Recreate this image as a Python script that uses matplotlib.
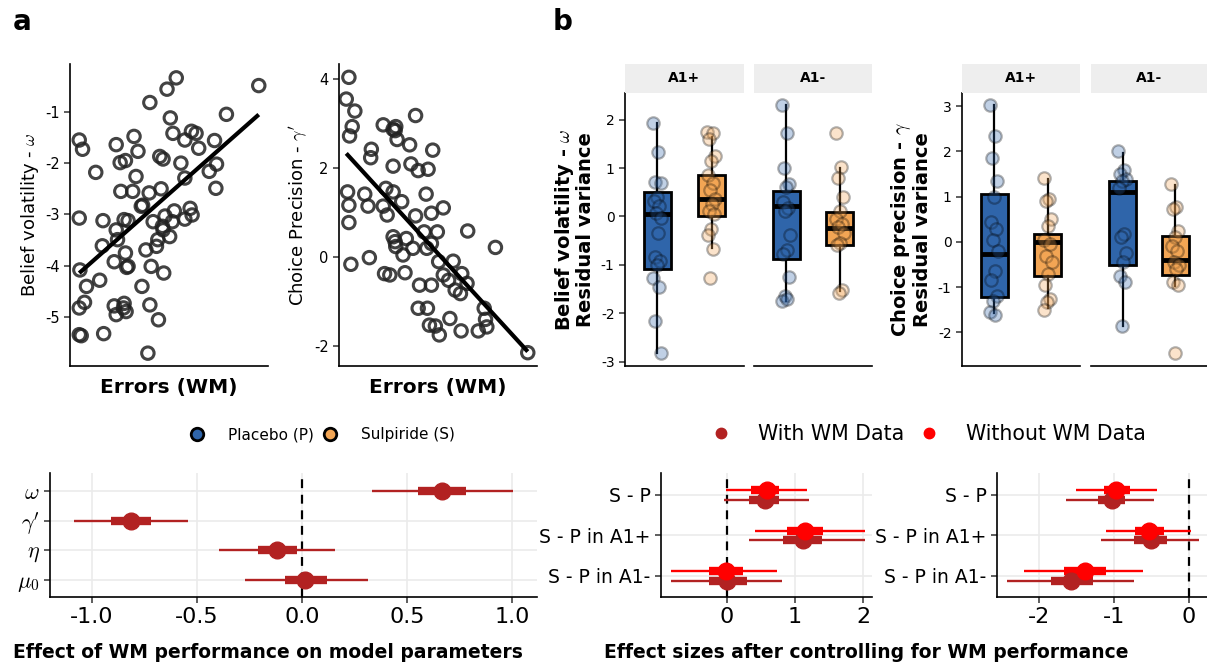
import numpy as np
import matplotlib
matplotlib.use("Agg")
import matplotlib.pyplot as plt
from matplotlib.lines import Line2D

plt.rcParams['font.family'] = ['DejaVu Sans']
plt.rcParams['mathtext.fontset'] = 'cm'

W, H = 1207, 662

# panel a: WM errors vs model parameters
errors_omega = [1.4, 1.9, 1.4, 1.5, 1.4, 2.2, 2.5, 1.4, 1.7, 3.9, 4.5, 5.0, 4.9, 5.1, 7.0, 7.6,
                8.4, 9.7, 10.3, 7.7, 9.5, 10.0, 7.0, 7.2, 8.2, 8.8, 6.7, 8.4, 8.8, 8.6, 6.7, 7.0,
                8.2, 8.5, 8.1, 10.9, 10.8, 11.0, 12.0, 12.1, 11.8, 12.1, 12.3, 11.5, 12.6, 13.1,
                13.3, 13.4, 13.6, 14.1, 13.8, 14.0, 14.1, 14.2, 14.4, 14.7, 16.1, 15.2, 15.6,
                15.1, 15.5, 15.8, 16.8, 17.4, 17.4, 17.4, 18.4, 19.1, 18.2, 18.5, 19.5, 21.1,
                21.9, 22.1, 22.2, 23.7, 28.6]
omega = [-1.55, -1.73, -3.07, -4.08, -4.82, -4.71, -4.40, -5.34, -5.36, -2.18, -4.28, -3.12,
         -3.61, -5.32, -1.64, -1.99, -1.95, -1.48, -1.77, -2.55, -2.55, -2.26, -3.30, -3.49,
         -3.10, -3.12, -3.92, -3.75, -4.01, -4.03, -4.78, -4.95, -4.73, -4.89, -4.82, -4.40,
         -2.84, -2.82, -2.58, -0.82, -5.70, -4.76, -4.01, -3.69, -3.14, -3.62, -3.49, -5.05,
         -1.87, -1.92, -2.50, -3.23, -3.30, -4.14, -3.03, -0.56, -0.34, -1.12, -1.42, -3.43,
         -3.14, -2.93, -2.00, -2.29, -3.09, -1.55, -1.38, -1.42, -2.88, -3.01, -1.71, -2.16,
         -1.56, -2.49, -2.02, -1.05, -0.49]

errors_gamma = [1.5, 1.1, 2.4, 2.0, 1.6, 1.3, 1.5, 1.5, 1.8, 4.9, 4.8, 3.9, 4.4, 4.6, 6.7, 8.2,
                8.6, 8.5, 8.8, 8.2, 7.1, 8.2, 9.5, 6.7, 7.3, 8.2, 8.5, 8.6, 9.7, 10.2, 11.2, 6.9,
                7.7, 10.0, 10.7, 11.6, 10.9, 12.0, 13.5, 14.2, 13.2, 11.6, 14.0, 15.8, 12.9, 14.9,
                14.0, 13.3, 12.2, 14.0, 15.1, 15.8, 16.6, 17.3, 17.6, 18.4, 18.6, 19.4, 19.5,
                12.0, 13.4, 13.7, 14.6, 15.2, 16.8, 18.5, 21.1, 22.0, 22.2, 22.4, 23.7, 28.6]
gamma = [4.04, 3.55, 3.28, 2.93, 2.72, 1.46, 1.16, 0.77, -0.17, 2.42, 2.23, 1.41, 1.14, -0.02,
         2.97, 2.87, 2.93, 2.84, 2.64, 2.04, 1.54, 1.46, 1.24, 1.14, 0.94, 0.45, 0.34, 0.23,
         0.04, 0.41, 0.19, -0.38, -0.41, -0.36, 2.52, 3.18, 2.09, 1.94, 1.97, 2.40, 1.41, 0.92,
         0.98, 1.10, 0.56, 0.56, 0.30, 0.19, -0.64, -0.64, -0.11, -0.41, -0.53, -0.10, -0.75,
         -0.83, -0.38, -0.60, 0.58, -1.16, -1.16, -1.54, -1.56, -1.76, -1.39, -1.67, -1.67,
         -1.16, -1.41, -1.58, 0.21, -2.16]

# panel b: residual variance per group, order = A1+ P, A1+ S, A1- P, A1- S
om_q1 = [-1.08, 0.00, -0.87, -0.59]
om_med = [0.05, 0.37, 0.22, -0.23]
om_q3 = [0.50, 0.85, 0.52, 0.10]
om_wlo = [-2.83, -0.65, -1.75, -1.55]
om_whi = [1.92, 1.65, 2.30, 1.00]
om_pts = [
    [1.94, 1.34, 0.72, 0.69, 0.41, 0.31, 0.21, 0.07, -0.03, -0.34, -0.83, -0.93, -1.00, -1.28, -1.46, -2.17, -2.83],
    [1.75, 1.72, 1.60, 1.25, 1.15, 0.85, 0.70, 0.55, 0.35, 0.25, 0.12, 0.05, -0.25, -0.38, -0.67, -1.27],
    [2.30, 1.72, 1.00, 0.68, 0.60, 0.30, 0.18, 0.12, -0.38, -0.70, -0.77, -1.25, -1.65, -1.75, -1.70],
    [1.72, 1.03, 0.80, 0.40, 0.12, -0.05, -0.15, -0.22, -0.35, -0.55, -0.60, -1.52, -1.58],
]
ga_q1 = [-1.21, -0.75, -0.51, -0.73]
ga_med = [-0.27, 0.00, 1.10, -0.40]
ga_q3 = [1.07, 0.17, 1.35, 0.13]
ga_wlo = [-1.58, -1.45, -1.85, -0.98]
ga_whi = [3.02, 1.38, 1.97, 1.25]
ga_pts = [
    [3.02, 2.33, 1.85, 1.35, 1.00, 0.45, 0.28, 0.05, -0.20, -0.65, -0.85, -1.20, -1.30, -1.55, -1.62],
    [1.42, 0.95, 0.90, 0.50, 0.35, 0.05, -0.05, -0.30, -0.45, -0.70, -0.95, -1.25, -1.32, -1.50],
    [2.00, 1.60, 1.50, 1.40, 1.35, 1.20, 0.18, 0.12, -0.25, -0.45, -0.75, -0.88, -1.85],
    [1.27, 0.78, 0.72, 0.25, 0.10, -0.10, -0.20, -0.45, -0.50, -0.60, -0.88, -0.95, -2.45],
]

# bottom left: effect of WM performance
params = [r'$\omega$', r"$\gamma'$", r'$\eta$', r'$\mu_0$']
wm_est = [0.666, -0.814, -0.119, 0.017]
wm_lo66 = [0.554, -0.91, -0.208, -0.081]
wm_hi66 = [0.78, -0.72, -0.025, 0.119]
wm_lo95 = [0.336, -1.088, -0.393, -0.271]
wm_hi95 = [1.008, -0.542, 0.158, 0.314]

# bottom right: effect sizes with / without WM data
contrasts = ['S - P', 'S - P in A1+', 'S - P in A1-']
om_with = [0.56, 1.11, 0.00]
om_with_66 = ([0.33, 0.82, -0.27], [0.77, 1.39, 0.29])
om_with_95 = ([-0.05, 0.33, -0.82], [1.20, 2.02, 0.81])
om_wo = [0.58, 1.15, -0.02]
om_wo_66 = ([0.35, 0.88, -0.27], [0.77, 1.41, 0.23])
om_wo_95 = ([-0.01, 0.41, -0.82], [1.17, 2.02, 0.74])

ga_with = [-1.03, -0.51, -1.57]
ga_with_66 = ([-1.22, -0.73, -1.84], [-0.85, -0.30, -1.28])
ga_with_95 = ([-1.64, -1.18, -2.43], [-0.47, 0.13, -0.73])
ga_wo = [-0.98, -0.53, -1.39]
ga_wo_66 = ([-1.14, -0.72, -1.67], [-0.79, -0.34, -1.11])
ga_wo_95 = ([-1.51, -1.11, -2.20], [-0.43, 0.03, -0.62])

c_plac = '#2F65AA'
c_sulp = '#F2A554'
c_with = '#B22222'
c_wo = '#FF0000'


def px(x0, y0, x1, y1):
    return [x0 / W, 1 - y1 / H, (x1 - x0) / W, (y1 - y0) / H]


fig = plt.figure(figsize=(W / 100, H / 100), dpi=100)


def style_axis(ax, labelsize=10):
    for s in ['top', 'right']:
        ax.spines[s].set_visible(False)
    for s in ['left', 'bottom']:
        ax.spines[s].set_linewidth(1.2)
    ax.tick_params(labelsize=labelsize, length=4, width=1.1, color='#333333')


# scatter panels
for box, xs, ys, ylab, ylim, yt in [
        ((70, 64, 268, 366), errors_omega, omega, r'Belief volatility - $\omega$', (-5.95, -0.07), [-5, -4, -3, -2, -1]),
        ((339, 64, 537, 366), errors_gamma, gamma, r"Choice Precision - $\gamma'$", (-2.46, 4.34), [-2, 0, 2, 4])]:
    ax = fig.add_axes(px(*box))
    ax.scatter(xs, ys, s=80, facecolors='none', edgecolors='#222222', linewidths=2.2, alpha=0.85)
    k, b = np.polyfit(xs, ys, 1)
    xl = np.array([min(xs), max(xs)])
    ax.plot(xl, k * xl + b, color='black', lw=3, solid_capstyle='butt')
    ax.set_xlim(0, 30)
    ax.set_ylim(*ylim)
    ax.set_yticks(yt)
    ax.set_yticklabels([str(v) for v in yt])
    ax.set_xticks([])
    style_axis(ax, 10.5)
    ax.set_ylabel(ylab, fontsize=13, labelpad=3)
    ax.set_xlabel('Errors (WM)', fontsize=14.5, fontweight='bold', labelpad=9)


# box panels
def box_panel(x_facets, q1, med, q3, wlo, whi, pts, ylim, yt, ylab):
    for f, (x0, x1) in enumerate(x_facets):
        ax = fig.add_axes(px(x0, 93, x1, 366))
        strip = fig.add_axes(px(x0, 64, x1, 93))
        strip.set_facecolor('#EEEEEE')
        strip.set_xticks([])
        strip.set_yticks([])
        for s in strip.spines.values():
            s.set_visible(False)
        strip.text(0.5, 0.5, ['A1+', 'A1-'][f], ha='center', va='center',
                   fontsize=10, fontweight='bold', transform=strip.transAxes)
        stats = []
        for g in range(2):
            i = f * 2 + g
            stats.append(dict(q1=q1[i], med=med[i], q3=q3[i], whislo=wlo[i], whishi=whi[i], fliers=[]))
        bp = ax.bxp(stats, positions=[1, 2], widths=0.5, patch_artist=True, showcaps=False,
                    boxprops=dict(linewidth=2, edgecolor='black'),
                    medianprops=dict(color='black', linewidth=3.5, solid_capstyle='butt'),
                    whiskerprops=dict(color='black', linewidth=1.6))
        for patch, col in zip(bp['boxes'], [c_plac, c_sulp]):
            patch.set_facecolor(col)
        for g, col in enumerate([c_plac, c_sulp]):
            vals = pts[f * 2 + g]
            n = len(vals)
            jit = ((np.arange(n) * 0.618) % 1 - 0.5) * 0.16
            ax.scatter(1 + g + jit, vals, s=80, color=col, edgecolors='black',
                       linewidths=1.6, alpha=0.3, zorder=5)
        ax.set_xlim(0.4, 2.6)
        ax.set_ylim(*ylim)
        ax.set_xticks([])
        style_axis(ax)
        if f == 0:
            ax.set_yticks(yt)
            ax.set_yticklabels([str(v) for v in yt])
            ax.set_ylabel(ylab, fontsize=14, fontweight='bold', labelpad=4, linespacing=1.0)
        else:
            ax.spines['left'].set_visible(False)
            ax.set_yticks([])


box_panel([(625, 744), (754, 872)], om_q1, om_med, om_q3, om_wlo, om_whi, om_pts,
          (-3.09, 2.55), [-3, -2, -1, 0, 1, 2], 'Belief volatility - $\\omega$\nResidual variance')
box_panel([(962, 1080), (1091, 1207)], ga_q1, ga_med, ga_q3, ga_wlo, ga_whi, ga_pts,
          (-2.74, 3.29), [-2, -1, 0, 1, 2, 3], 'Choice precision - $\\gamma$\nResidual variance')


# forest panels
def forest(ax, y, est, lo66, hi66, lo95, hi95, col):
    ax.hlines(y, lo95, hi95, color=col, lw=1.7, zorder=3)
    ax.hlines(y, lo66, hi66, color=col, lw=6, zorder=3)
    ax.plot(est, y, 'o', color=col, ms=12, zorder=4)


def forest_axis(ax, ticklabelsize):
    style_axis(ax, ticklabelsize)
    ax.grid(True, color='#EBEBEB', lw=1.2, zorder=0)
    ax.set_axisbelow(True)
    ax.axvline(0, color='black', lw=1.6, ls=(0, (4, 3)), zorder=2)


ax = fig.add_axes(px(50, 473, 537, 597))
ypos = np.arange(len(params))[::-1] + 1
forest(ax, ypos, wm_est, wm_lo66, wm_hi66, wm_lo95, wm_hi95, c_with)
forest_axis(ax, 16)
ax.set_xlim(-1.2, 1.12)
ax.set_ylim(0.43, 4.6)
ax.set_xticks([-1.0, -0.5, 0.0, 0.5, 1.0])
ax.set_xticklabels(['-1.0', '-0.5', '0.0', '0.5', '1.0'])
ax.set_yticks(ypos)
ax.set_yticklabels(params, fontsize=16)
fig.text(268 / W, 1 - 652 / H, 'Effect of WM performance on model parameters',
         ha='center', va='center', fontsize=13.5, fontweight='bold')

ypos = np.arange(len(contrasts))[::-1] + 1
dodge = 0.115
for box, w, w66, w95, o, o66, o95, xlim, xt in [
        ((661, 473, 872, 597), om_with, om_with_66, om_with_95, om_wo, om_wo_66, om_wo_95,
         (-0.97, 2.13), [0, 1, 2]),
        ((997, 473, 1207, 597), ga_with, ga_with_66, ga_with_95, ga_wo, ga_wo_66, ga_wo_95,
         (-2.56, 0.24), [-2, -1, 0])]:
    ax = fig.add_axes(px(*box))
    forest(ax, ypos - dodge, w, w66[0], w66[1], w95[0], w95[1], c_with)
    forest(ax, ypos + dodge, o, o66[0], o66[1], o95[0], o95[1], c_wo)
    forest_axis(ax, 16)
    ax.set_xlim(*xlim)
    ax.set_ylim(0.48, 3.54)
    ax.set_xticks(xt)
    ax.set_xticklabels([str(v) for v in xt])
    ax.set_yticks(ypos)
    ax.set_yticklabels(contrasts, fontsize=13.5)

fig.text(866 / W, 1 - 652 / H, 'Effect sizes after controlling for WM performance',
         ha='center', va='center', fontsize=13.5, fontweight='bold')

# legends
h1 = [Line2D([], [], ls='', marker='o', ms=9, mfc=c, mec='black', mew=2) for c in (c_plac, c_sulp)]
fig.legend(h1, ['Placebo (P)', 'Sulpiride (S)'], loc='center', ncol=2, frameon=False,
           bbox_to_anchor=(322 / W, 1 - 435 / H), fontsize=11, handlelength=1,
           handletextpad=1.5, columnspacing=0.6)
h2 = [Line2D([], [], ls='', marker='o', ms=7.5, color=c) for c in (c_with, c_wo)]
fig.legend(h2, ['With WM Data', 'Without WM Data'], loc='center', ncol=2, frameon=False,
           bbox_to_anchor=(928 / W, 1 - 434 / H), fontsize=14.8, handlelength=1,
           handletextpad=1.3, columnspacing=0.7)

fig.text(22 / W, 1 - 22 / H, 'a', ha='center', va='center', fontsize=20, fontweight='bold')
fig.text(563 / W, 1 - 22 / H, 'b', ha='center', va='center', fontsize=20, fontweight='bold')

fig.savefig('out.png', dpi=100)
